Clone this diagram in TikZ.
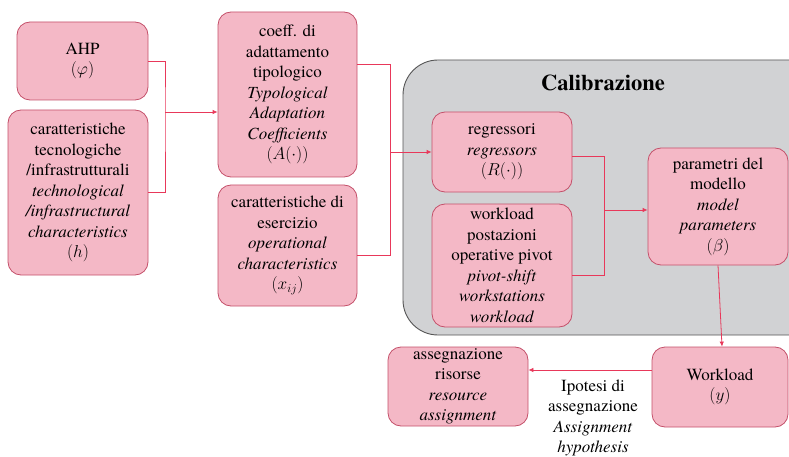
\documentclass[tikz,border=0pt]{standalone}
\usepackage{fontspec}
\setmainfont{TeX Gyre Termes}
\usetikzlibrary{arrows.meta}
\definecolor{boxfill}{HTML}{F4B8C6}
\definecolor{boxline}{HTML}{C4506A}
\definecolor{wire}{HTML}{E8385A}
\definecolor{calfill}{HTML}{D1D2D4}
\definecolor{calline}{HTML}{555555}
\begin{document}
\begin{tikzpicture}[x=1pt,y=-1pt,
  stepbox/.style={draw=boxline, fill=boxfill, line width=0.8pt, rounded corners=13pt,
    align=center, inner sep=0pt, font=\rmfamily\fontsize{17}{20.5}\selectfont},
  wireline/.style={draw=wire, line width=0.8pt},
  wirearrow/.style={wireline, -{Latex[length=5pt,width=4.5pt]}},
  plain/.style={align=center, inner sep=0pt, font=\rmfamily\fontsize{17}{20.5}\selectfont}]
\useasboundingbox (0,0) rectangle (789,457);
\clip (0,0) rectangle (789,457);

% calibration group
\draw[fill=calfill, draw=calline, line width=0.9pt, rounded corners=35pt] (403,60) rectangle (830,335);
\node[inner sep=0pt, font=\rmfamily\fontsize{22.5}{26}\selectfont\bfseries] (caltitle) at (603,83) {Calibrazione};

% input blocks
\node[stepbox, minimum width=131pt, minimum height=78pt] (ahp) at (82.5,61) {AHP\\$(\varphi)$};
\node[stepbox, minimum width=140pt, minimum height=165pt] (tech) at (78,192.5)
  {caratteristiche\\tecnologiche\\/infrastrutturali\\\textit{technological}\\\textit{/infrastructural}\\\textit{characteristics}\\$(h)$};
\node[stepbox, minimum width=139pt, minimum height=165pt] (coeff) at (287.5,94.5)
  {coeff. di\\adattamento\\tipologico\\\textit{Typological}\\\textit{Adaptation}\\\textit{Coefficients}\\$(A(\cdot))$};
\node[stepbox, minimum width=139pt, minimum height=121pt] (eser) at (287.5,245.5)
  {caratteristiche di\\esercizio\\\textit{operational}\\\textit{characteristics}\\$(x_{ij})$};

% calibration blocks
\node[stepbox, minimum width=140pt, minimum height=80pt] (regr) at (502,152)
  {regressori\\\textit{regressors}\\$(R(\cdot))$};
\node[stepbox, minimum width=140pt, minimum height=123pt] (wlp) at (502,265.5)
  {workload\\postazioni\\operative pivot\\\textit{pivot-shift}\\\textit{workstations}\\\textit{workload}};
\node[stepbox, minimum width=140pt, minimum height=117pt] (par) at (718,206.5)
  {parametri del\\modello\\\textit{model}\\\textit{parameters}\\$(\beta)$};

% output blocks
\node[stepbox, minimum width=136pt, minimum height=80pt] (wl) at (720,387) {Workload\\$(y)$};
\node[stepbox, minimum width=140pt, minimum height=79pt] (ass) at (458,386.5)
  {assegnazione\\risorse\\\textit{resource}\\\textit{assignment}};
\node[plain] (hyp) at (593,418) {Ipotesi di\\assegnazione\\\textit{Assignment}\\\textit{hypothesis}};

% connectors
\coordinate (j1) at (165,112);
\draw[wireline] (ahp.east) -| (j1) |- (tech.east);
\draw[wirearrow] (j1) -- (j1 -| coeff.west);

\coordinate (j2) at (390,152);
\draw[wireline] ([yshift=30.5pt]coeff.east) -| (j2);
\draw[wireline] ([yshift=-9.5pt]eser.east) -| (j2);
\draw[wirearrow] (j2) -- (regr.west);

\coordinate (j3) at (604,210);
\draw[wireline] ([yshift=-4pt]regr.east) -| (j3);
\draw[wireline] ([yshift=-9.5pt]wlp.east) -| (j3);
\draw[wirearrow] (j3) -- (j3 -| par.west);

\draw[wirearrow] (par.south) -- ([xshift=2pt]wl.north);
\draw[wirearrow] ([yshift=17pt]wl.west) -- ([yshift=17pt]wl.west -| ass.east);
\end{tikzpicture}
\end{document}
